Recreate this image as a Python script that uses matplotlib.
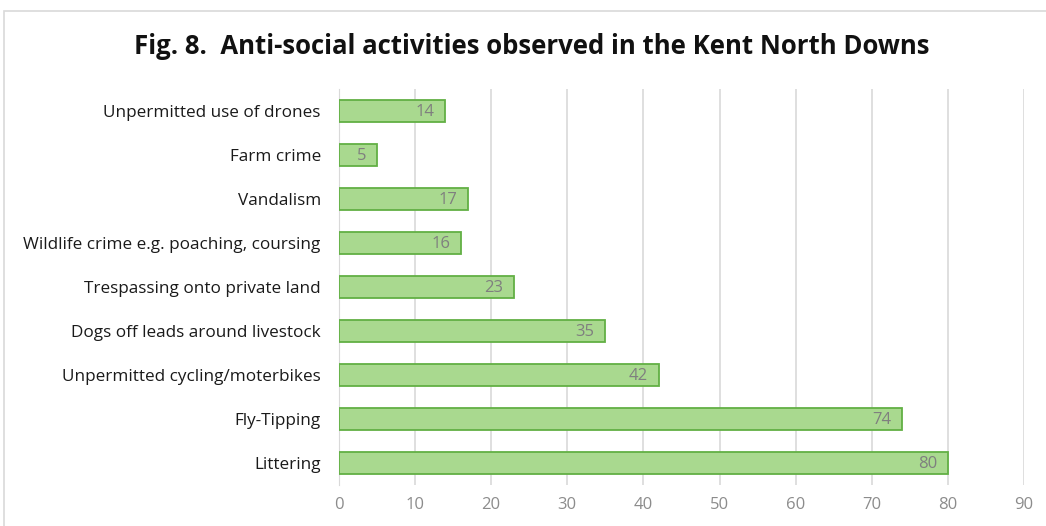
import matplotlib.pyplot as plt
from matplotlib.patches import Rectangle

categories = [
    "Unpermitted use of drones",
    "Farm crime",
    "Vandalism",
    "Wildlife crime e.g. poaching, coursing",
    "Trespassing onto private land",
    "Dogs off leads around livestock",
    "Unpermitted cycling/moterbikes",
    "Fly-Tipping",
    "Littering",
]
counts = [14, 5, 17, 16, 23, 35, 42, 74, 80]
x_ticks = [0, 10, 20, 30, 40, 50, 60, 70, 80, 90]

plt.rcParams['font.family'] = ['Open Sans', 'DejaVu Sans']

fig = plt.figure(figsize=(10.46, 5.26), dpi=100)
ax = fig.add_axes([0.324, 0.078, 0.655, 0.753])

# chart frame
fig.patches.append(Rectangle((0.004, -0.1), 1.1, 1.08, transform=fig.transFigure,
                             fill=False, edgecolor='#d9d9d9', linewidth=1.2))

ypos = list(range(len(categories)))
bars = ax.barh(ypos, counts, height=0.5, color='#a9d98f', edgecolor='#62b044',
               linewidth=1.3, zorder=3)

for b, v in zip(bars, counts):
    ax.text(b.get_width() - 1.4, b.get_y() + b.get_height() / 2 + 0.02, str(v),
            ha='right', va='center', color='#7f7f7f', fontsize=12, zorder=4)

ax.set_yticks(ypos)
ax.set_yticklabels(categories, fontsize=12.3)
ax.set_ylim(8.5, -0.5)
ax.set_xlim(0, 90)
ax.set_xticks(x_ticks)
ax.tick_params(axis='x', colors='#8c8c8c', labelsize=12, length=0, pad=9)
ax.tick_params(axis='y', length=0, pad=13, labelcolor='#1a1a1a')
ax.xaxis.grid(True, color='#d9d9d9', linewidth=1.2, zorder=0)
for s in ['top', 'right', 'bottom']:
    ax.spines[s].set_visible(False)
ax.spines['left'].set_color('#d9d9d9')

fig.text(0.508, 0.912, "Fig. 8.  Anti-social activities observed in the Kent North Downs",
         ha='center', va='center', fontsize=18.5, fontweight='bold', color='#111111')

fig.savefig('out.png', dpi=100)
